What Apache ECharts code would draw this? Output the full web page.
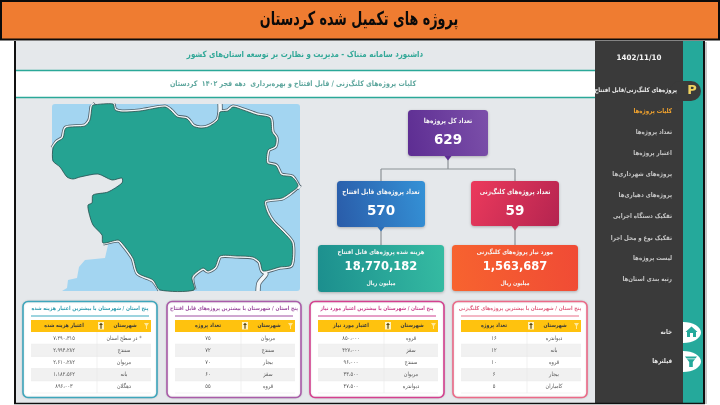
<!DOCTYPE html>
<html><head><meta charset="utf-8">
<style>html,body{margin:0;padding:0;background:#fff}#c{position:absolute;left:0;top:0;width:720px;height:405px}</style>
<script src="https://cdn.jsdelivr.net/npm/echarts@6/dist/echarts.min.js"></script>
</head><body><div id="c" dir="rtl"></div>
<script>
// ---- Text and values ----
const pageTitle = 'پروژه های تکمیل شده کردستان';
const dashTitle = 'داشبورد سامانه متناک - مدیریت و نظارت بر توسعه استان‌های کشور';
const subTitle = 'کلیات پروژه‌های کلنگ‌زنی / قابل افتتاح و بهره‌برداری  دهه فجر ۱۴۰۲  کردستان';
const dateLabel = '1402/11/10';
const menuHead = 'پروژه‌های کلنگ‌زنی/قابل افتتاح';
const menuItems = ['کلیات پروژه‌ها','تعداد پروژه‌ها','اعتبار پروژه‌ها','پروژه‌های شهرداری‌ها','پروژه‌های دهیاری‌ها','تفکیک دستگاه اجرایی','تفکیک نوع و محل اجرا','لیست پروژه‌ها','رتبه بندی استان‌ها'];
const menuBottom = ['خانه','فیلترها'];
const kpiLabels = ['تعداد کل پروژه‌ها','تعداد پروژه‌های قابل افتتاح','تعداد پروژه‌های کلنگ‌زنی','هزینه شده پروژه‌های قابل افتتاح','مورد نیاز پروژه‌های کلنگ‌زنی'];
const kpiValues = ['629','570','59','18,770,182','1,563,687'];
const kpiUnit = 'میلیون ریال';
const cityHead = 'شهرستان';

const t1Title = 'پنج استان / شهرستان با بیشترین اعتبار هزینه شده';
const t1Head = 'اعتبار هزینه شده';
const t1Names = ['* در سطح استان','سنندج','مریوان','بانه','دهگلان'];
const t1Vals = ['۷،۲۹۰،۳۱۵','۲،۹۹۴،۲۸۲','۲،۶۱۰،۲۸۲','۱،۱۸۲،۵۶۲','۸۹۶،۰۰۳'];
const t2Title = 'پنج استان / شهرستان با بیشترین پروژه‌های قابل افتتاح';
const t2Head = 'تعداد پروژه';
const t2Names = ['مریوان','سنندج','بیجار','سقز','قروه'];
const t2Vals = ['۷۵','۷۲','۷۰','۶۰','۵۵'];
const t3Title = 'پنج استان / شهرستان با بیشترین اعتبار مورد نیاز';
const t3Head = 'اعتبار مورد نیاز';
const t3Names = ['قروه','سقز','سنندج','مریوان','دیواندره'];
const t3Vals = ['۸۵۰،۰۰۰','۴۲۷،۰۰۰','۹۶،۰۰۰','۳۳،۵۰۰','۴۷،۵۰۰'];
const t4Title = 'پنج استان / شهرستان با بیشترین پروژه‌های کلنگ‌زنی';
const t4Head = 'تعداد پروژه';
const t4Names = ['دیواندره','بانه','قروه','بیجار','کامیاران'];
const t4Vals = ['۱۶','۱۲','۱۰','۶','۵'];

// Province outline, in picture units
const provinceShape = [[93,105],[113,104],[115,110],[122,112],[140,111],[165,107],[171,111],[177,117],[187,119],[193,126],[200,128],[208,127],[218,120],[220,112],[228,111],[233,107],[243,110],[257,115],[270,118],[272,132],[276,138],[275,146],[268,150],[267,163],[276,166],[281,175],[292,177],[298,186],[290,193],[282,198],[265,201],[267,212],[273,222],[283,232],[292,243],[291,265],[280,267],[263,271],[260,262],[253,257],[237,256],[220,256],[215,267],[208,271],[203,268],[192,277],[194,290],[160,290],[153,280],[138,273],[133,258],[122,243],[118,240],[103,243],[102,235],[93,225],[89,213],[88,205],[92,203],[93,195],[108,192],[122,183],[122,178],[112,180],[98,174],[80,177],[73,179],[67,177],[60,167],[53,161],[53,148],[57,142],[63,138],[66,128],[85,126],[90,120],[92,107]];
const neighbourShape = [[52,291],[52,161],[53,161],[60,167],[67,177],[73,179],[80,177],[98,174],[112,180],[122,178],[122,183],[108,192],[93,195],[92,203],[88,205],[89,213],[93,225],[102,235],[103,243],[108,245],[105,258],[85,260],[79,267],[77,278],[68,280],[67,288],[62,291]];
const borderLines = [
  [[53,148],[57,142],[63,138],[66,128],[85,126],[90,120],[92,107],[93,105],[92,104]],
  [[113,104],[115,110],[122,112],[140,111],[165,107],[171,111],[177,117],[187,119],[193,126],[200,128],[208,127],[218,120],[220,112],[220,104]],
  [[220,112],[228,111],[233,107],[243,110],[257,115],[270,118],[272,132],[276,138],[275,146],[268,150],[267,163],[276,166],[281,175],[292,177],[298,186],[300,188]],
  [[298,186],[290,193],[282,198],[265,201],[267,212],[273,222],[283,232],[292,243],[291,265],[280,267],[263,271],[260,262],[253,257],[237,256],[220,256],[215,267],[208,271],[203,268],[192,277],[194,290]],
  [[263,271],[266,274],[259,283],[258,291]],
  [[160,290],[153,280],[138,273],[133,258],[122,243],[118,240],[103,243]]
];

// ---- Styling and layout ----
const FONT = '"DejaVu Sans"';
const els = [];
const rect = (x,y,w,h,fill,z) => els.push({type:'rect',shape:{x,y,width:w,height:h},style:{fill},z:z||1,silent:true});
const txt = (x,y,s,size,color,align,weight,z,sx) => els.push({type:'text',x,y,scaleX:sx||0.85,z:z||6,silent:true,style:{text:s,font:(weight||'normal')+' '+size+'px '+FONT,fill:color,align:align||'center',verticalAlign:'middle'}});
const grad = (a,b,down) => ({type:'linear',x:0,y:down?0:0.7,x2:1,y2:down?1:0.3,colorStops:[{offset:0,color:a},{offset:1,color:b}]});
const hline = (x1,y1,x2,y2,color,w,z) => els.push({type:'line',shape:{x1,y1,x2,y2},style:{stroke:color,lineWidth:w},z:z||2,silent:true});
const tri = (cx,y,c) => els.push({type:'polygon',shape:{points:[[cx-3.5,y],[cx+3.5,y],[cx,y+4.5]]},style:{fill:c},z:3,silent:true});

// page frame
rect(707,41,13,364,'#ffffff',0);
rect(15,41,690,363,'#E5E8EB',1);
rect(705,42,2,362,'#C9C9C9',1);
hline(15,41,15,404,'#111',2,5);
hline(704,41,704,404,'#111',2,5);
hline(14,403.5,705,403.5,'#111',1.6,5);
// header
rect(0,0,720,40,'#EF7C31',7);
els.push({type:'rect',shape:{x:1,y:1,width:718,height:38.5},style:{fill:'none',stroke:'#0b0b0b',lineWidth:2},z:8,silent:true});
txt(359,20,pageTitle,19,'#0a0a0a','center','bold',9,0.67);
// sub-header bands
rect(16,71,579,26,'#ffffff',2);
hline(16,70.5,595,70.5,'#2BA898',1.6,3);
hline(16,97.5,595,97.5,'#2BA898',1.6,3);
txt(305,55,dashTitle,8.5,'#33A898','center','bold',6,0.83);
txt(293,84,subTitle,7.5,'#5FA79E','center','bold',6,0.845);

// sidebar
rect(683,41,20,362,'#25A99B',2);
const bottomY = [332,361];
bottomY.forEach((y)=>{
  els.push({type:'ellipse',shape:{cx:683,cy:y+0.5,rx:18,ry:10.5},style:{fill:'#fff'},z:2.5,silent:true});
});
rect(595,41,88,362,'#3A3A3A',3);
txt(639,58.5,dateLabel,7.5,'#f4f4f4','center','bold',6,0.95);
els.push({type:'rect',shape:{x:670,y:81,width:31,height:20,r:10},style:{fill:'#3A3A3A'},z:3,silent:true});
txt(692,91,'P',13,'#F0D260','center','bold',7,1);
txt(677,90.5,menuHead,6.3,'#efefef','right','bold');
const menuY = [111,132,153,174,195,216,238,258,279];
menuItems.forEach((m,i)=>txt(672,menuY[i],m,6.5,i===0?'#F0A22E':'#c4c4c4','right','bold'));
menuBottom.forEach((m,i)=>txt(672,bottomY[i],m,6.5,'#e6e6e6','right','bold'));
// home icon
els.push({type:'polygon',shape:{points:[[691.5,326.5],[697.5,332],[696,332],[696,337],[687,337],[687,332],[685.5,332]]},style:{fill:'#25A99B'},z:4,silent:true});
els.push({type:'rect',shape:{x:690,y:333,width:3,height:4},style:{fill:'#fff'},z:5,silent:true});
// filter icon
els.push({type:'polygon',shape:{points:[[685,356.5],[697,356.5],[692.8,362],[692.8,367],[689.2,367],[689.2,362]]},style:{fill:'#25A99B'},z:4,silent:true});
hline(685,358.8,697,358.8,'#fff',0.7,5);

// map backdrop
els.push({type:'rect',shape:{x:52,y:104,width:248,height:187,r:3},style:{fill:'#A3D5F1'},z:1,silent:true});

// KPI boxes
const kpi = [
 {x:408,y:110,w:80,h:46,a:'#5E2E93',b:'#7B4FA9',c:'#5E2E93'},
 {x:337,y:181,w:88,h:46,a:'#2A5DAA',b:'#3490D5',c:'#2E70B8'},
 {x:471,y:181,w:88,h:45,a:'#EC3A5C',b:'#B42450',c:'#D02D55',down:true}
];
const kpi2 = [
 {x:318,y:245,w:126,h:47,a:'#1C8F8E',b:'#35BBA2'},
 {x:452,y:245,w:126,h:46,a:'#F7632F',b:'#F04B35'}
];
// connectors
const GL='#8B9196';
hline(448,156,448,169,GL,1.2); hline(381,169,515,169,GL,1.2);
hline(381,169,381,181,GL,1.2); hline(515,169,515,181,GL,1.2);
hline(381,227,381,245,GL,1.2); hline(515,226,515,245,GL,1.2);
kpi.forEach((b,i)=>{
  els.push({type:'rect',shape:{x:b.x,y:b.y,width:b.w,height:b.h,r:3.5},style:{fill:grad(b.a,b.b,b.down),shadowBlur:3,shadowColor:'rgba(0,0,0,.25)',shadowOffsetY:1},z:3,silent:true});
  tri(b.x+b.w/2,b.y+b.h,b.c);
  txt(b.x+b.w/2,b.y+11.5,kpiLabels[i],6.8,'#f5f5f5','center','bold');
  txt(b.x+b.w/2,b.y+30,kpiValues[i],13.5,'#ffffff','center','bold',6,1);
});
kpi2.forEach((b,i)=>{
  els.push({type:'rect',shape:{x:b.x,y:b.y,width:b.w,height:b.h,r:3.5},style:{fill:grad(b.a,b.b),shadowBlur:3,shadowColor:'rgba(0,0,0,.25)',shadowOffsetY:1},z:3,silent:true});
  txt(b.x+b.w/2,b.y+7,kpiLabels[i+3],6.3,'#f5f5f5','center','bold');
  txt(b.x+b.w/2,b.y+22,kpiValues[i+3],11.5,'#ffffff','center','bold',6,1);
  txt(b.x+b.w/2,b.y+38.5,kpiUnit,5.8,'#f5f5f5','center','bold');
});

// table cards
const cards = [
 {x:23,border:'#3EA6BC',title:t1Title,head:t1Head,names:t1Names,vals:t1Vals,titleC:'#2F9DB0',line:'#7CC6D4'},
 {x:167,border:'#A95CA9',title:t2Title,head:t2Head,names:t2Names,vals:t2Vals,titleC:'#9A4C9E',line:'#BF8AC2'},
 {x:310,border:'#D4408F',title:t3Title,head:t3Head,names:t3Names,vals:t3Vals,titleC:'#C93E8C',line:'#DE7FB5'},
 {x:453,border:'#EC6A88',title:t4Title,head:t4Head,names:t4Names,vals:t4Vals,titleC:'#E0607F',line:'#F0A0B2'}
];
cards.forEach(c=>{
  els.push({type:'rect',shape:{x:c.x,y:301.5,width:134,height:96,r:5},style:{fill:'#fff',stroke:c.border,lineWidth:1.6,shadowBlur:2,shadowColor:'rgba(0,0,0,.15)'},z:2,silent:true});
  txt(c.x+67,309,c.title,5.5,c.titleC,'center','bold');
  hline(c.x+8,316,c.x+126,316,c.line,1.4,3);
  const tx=c.x+8, ty=320, tw=120, split=66, hh=12, rh=12.2;
  rect(tx,ty,tw,hh,'#FFC20E',3);
  txt(tx+split/2,ty+6,c.head,5.6,'#3a3a3a','center','bold');
  txt(tx+split+28,ty+6,cityHead,5.6,'#3a3a3a','center','bold');
  rect(tx+split+1,ty+2,6,7.5,'#FFF3C4',4);
  els.push({type:'polygon',shape:{points:[[tx+split+4,ty+2.7],[tx+split+6,ty+5],[tx+split+4.6,ty+5],[tx+split+4.6,ty+8.7],[tx+split+3.4,ty+8.7],[tx+split+3.4,ty+5],[tx+split+2,ty+5]]},style:{fill:'#5d4a10'},z:5,silent:true});
  els.push({type:'polygon',shape:{points:[[tx+tw-7,ty+3],[tx+tw-2,ty+3],[tx+tw-4,ty+6],[tx+tw-4,ty+9],[tx+tw-5,ty+9],[tx+tw-5,ty+6]]},style:{fill:'#FFE89A'},z:5,silent:true});
  c.names.forEach((n,i)=>{
    const y=ty+hh+i*rh;
    if(i%2===1) rect(tx,y,tw,rh,'#F1F1F1',3);
    hline(tx,y+rh,tx+tw,y+rh,'#E6E6E6',0.5,4);
    txt(tx+split/2,y+rh/2,c.vals[i],5.8,'#555','center');
    txt(tx+split+27,y+rh/2,n,5.8,'#555','center');
  });
  hline(tx+split,ty+hh,tx+split,ty+hh+5*rh,'#E8E8E8',0.6,4);
});

const chart = echarts.init(document.getElementById('c'),null,{renderer:'canvas',width:720,height:405});
const SMOOTH = 0.25;
const polySeries = (data,fill,stroke,z,smooth) => ({
  type:'custom',coordinateSystem:'cartesian2d',silent:true,z,clip:false,animation:false,
  data:[0],encode:{x:[],y:[]},
  renderItem:(p,api)=>({type:'polygon',shape:{points:data.map(q=>api.coord(q)),smooth},style:{fill,stroke,lineWidth:stroke?0.8:0}})
});
const lineSeries = (data,color,width,z) => ({
  type:'custom',coordinateSystem:'cartesian2d',silent:true,z,clip:false,animation:false,
  data:[0],encode:{x:[],y:[]},
  renderItem:(p,api)=>({type:'polyline',shape:{points:data.map(q=>api.coord(q)),smooth:SMOOTH},style:{fill:null,stroke:color,lineWidth:width,lineJoin:'round'}})
});
chart.setOption({
  animation:false,
  backgroundColor:'#ffffff',
  grid:{left:0,right:0,top:0,bottom:0,containLabel:false},
  xAxis:{type:'value',min:0,max:720,show:false},
  yAxis:{type:'value',min:0,max:405,inverse:true,show:false},
  tooltip:{show:false},
  graphic:{elements:els},
  series:[
    polySeries(neighbourShape,'#E5E8EB',null,2,0),
    ...borderLines.map(l=>lineSeries(l,'#50606A',5.2,2)),
    ...borderLines.map(l=>lineSeries(l,'#F2F6F8',3.6,2)),
    polySeries(provinceShape,'#25A392','#2c4f4c',3,SMOOTH)
  ]
});
</script></body></html>
